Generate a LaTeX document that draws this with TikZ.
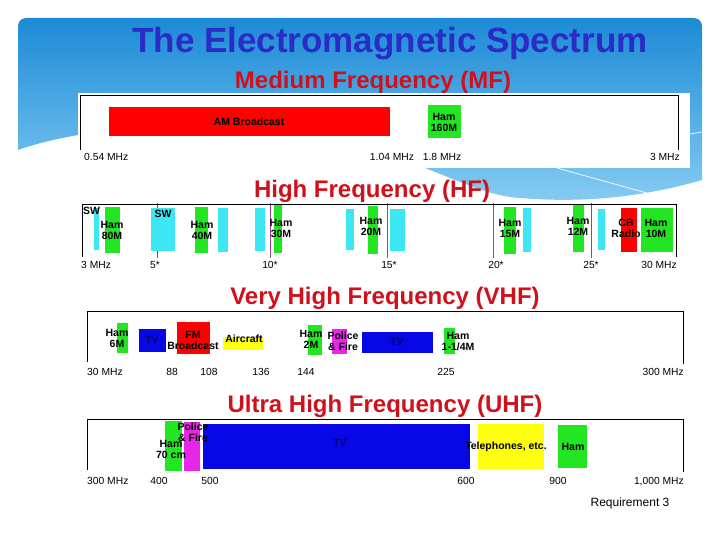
\documentclass[tikz,border=0pt]{standalone}
\usepackage{fontspec}
\setmainfont{Liberation Sans}
\definecolor{hdrtop}{HTML}{1C8AD6}
\definecolor{hdrbot}{HTML}{86CCF2}
\definecolor{titleblue}{HTML}{2B2BC8}
\definecolor{subred}{HTML}{D0101A}
\definecolor{hamgreen}{HTML}{22E622}
\definecolor{swcyan}{HTML}{3CE6F2}
\definecolor{tvblue}{HTML}{0808E6}
\definecolor{polmag}{HTML}{E826E8}
\definecolor{tickpurple}{HTML}{9A3E9A}
\definecolor{bandred}{HTML}{FF0000}
\definecolor{bandyellow}{HTML}{FFFF10}
\begin{document}
\begin{tikzpicture} [
        x=1pt, y=-1pt,
        heading/.style={text=subred, font=\fontsize{24}{24}\selectfont\bfseries, anchor=base},
        lbl/.style={font=\fontsize{10.5}{11}\selectfont\bfseries, align=center, inner sep=0pt},
        axis/.style={font=\fontsize{10.3}{11}\selectfont, inner sep=0pt, anchor=base},
        frame/.style={black, line width=0.8pt},
        tick/.style={tickpurple, line width=0.6pt} ]
    \useasboundingbox (0,0) rectangle (720,540);
    % header wave
    \shade[top color=hdrtop, bottom color=hdrbot] (18,150) [rounded corners=8pt] -- (18,18) -- (702,18) [sharp corners] -- (702,180)
        .. controls (640,198) and (580,203) .. (520,198) .. controls (470,195) and (430,160) .. (330,140)
        .. controls (200,115) and (80,128) .. (18,150) -- cycle;
    \draw[white, line width=0.7pt] (557,168) .. controls (600,180) .. (647,193);
    \draw[white, line width=0.7pt] (690,134) -- (702,132);
    \node[text=titleblue, font=\fontsize{35}{35}\selectfont\bfseries, anchor=base] (title) at (390,53) {The Electromagnetic Spectrum};

    % MF
    \fill[white] (78,93) rectangle (690,168);
    \node[heading] (mf) at (373,89) {Medium Frequency (MF)};
    \draw[frame] (80,150) -- (80,95) -- (678,95) -- (678,150);
    \fill[bandred] (109,107) rectangle (390,136);
    \fill[hamgreen] (428,105) rectangle (461,138);
    \node[lbl] (am) at (249,122) {AM Broadcast};
    \node[lbl] (ham160) at (444,122) {Ham\\160M};
    \node[axis, anchor=base west] (mf1) at (84,161) {0.54 MHz};
    \node[axis] (mf2) at (392,161) {1.04 MHz};
    \node[axis] (mf3) at (442,161) {1.8 MHz};
    \node[axis, anchor=base east] (mf4) at (680,161) {3 MHz};

    % HF
    \fill[white] (78,201) rectangle (690,273);
    \node[heading] (hf) at (372,197) {High Frequency (HF)};
    \foreach \x in {157,270,387,493,591}
        \draw[tick] (\x,203) -- (\x,258);
    \draw[frame] (82,257) -- (82,204) -- (676,204) -- (676,257);
    \foreach \xa/\xb/\ya/\yb/\c in {94/99/208/250/swcyan, 105/120/207/253/hamgreen,
            151/175/208/251/swcyan, 195/208/207/253/hamgreen, 218/228/208/252/swcyan,
            255/265/208/251/swcyan, 274/282/205/253/hamgreen, 346/354/209/250/swcyan,
            368/378/206/254/hamgreen, 390/405/209/251/swcyan, 504/516/207/254/hamgreen,
            523/531/208/252/swcyan, 573/584/205/252/hamgreen, 598/605/209/250/swcyan,
            621/637/208/252/bandred, 641/673/208/252/hamgreen}
        \fill[\c] (\xa,\ya) rectangle (\xb,\yb);
    \node[lbl, anchor=north west] (sw1) at (83,207) {SW};
    \node[lbl] (ham80) at (112,230) {Ham\\80M};
    \node[lbl] (sw2) at (163,214) {SW};
    \node[lbl] (ham40) at (202,230) {Ham\\40M};
    \node[lbl] (ham30) at (281,228) {Ham\\30M};
    \node[lbl] (ham20) at (371,226) {Ham\\20M};
    \node[lbl] (ham15) at (510,228) {Ham\\15M};
    \node[lbl] (ham12) at (578,226) {Ham\\12M};
    \node[lbl] (cb) at (626,228) {CB\\Radio};
    \node[lbl] (ham10) at (656,228) {Ham\\10M};
    \node[axis, anchor=base west] (hf0) at (81,268) {3 MHz};
    \foreach \x/\t [count=\i] in {155/5*, 270/10*, 389/15*, 496/20*, 591/25*}
        \node[axis] (hf\i) at (\x,268) {\t};
    \node[axis, anchor=base east] (hf6) at (677,268) {30 MHz};

    % VHF
    \fill[white] (86,309) rectangle (690,378);
    \node[heading] (vhf) at (385,304) {Very High Frequency (VHF)};
    \draw[frame] (87,362) -- (87,311) -- (683,311) -- (683,364);
    \foreach \xa/\xb/\ya/\yb/\c in {117/128/323/353/hamgreen, 139/166/329/352/tvblue,
            177/210/322/354/bandred, 223/263/337/350/bandyellow, 308/322/325/355/hamgreen,
            332/347/329/354/polmag, 362/433/332/353/tvblue, 444/455/328/354/hamgreen}
        \fill[\c] (\xa,\ya) rectangle (\xb,\yb);
    \node[lbl] (ham6) at (117,338) {Ham\\6M};
    \node[lbl, text=tvblue!45!black] (tv1) at (152,340) {TV};
    \node[lbl] (fm) at (193,340) {FM\\Broadcast};
    \node[lbl] (air) at (244,339) {Aircraft};
    \node[lbl] (ham2) at (311,339) {Ham\\2M};
    \node[lbl] (pol1) at (343,341) {Police\\\& Fire};
    \node[lbl, text=tvblue!45!black] (tv2) at (397,342) {TV};
    \node[lbl] (ham125) at (458,341) {Ham\\1-1/4M};
    \node[axis, anchor=base west] (vhf0) at (87,375) {30 MHz};
    \foreach \x/\t [count=\i] in {172/88, 209/108, 261/136, 306/144, 446/225}
        \node[axis] (vhf\i) at (\x,375) {\t};
    \node[axis, anchor=base east] (vhf6) at (684,375) {300 MHz};

    % UHF
    \fill[white] (86,417) rectangle (690,488);
    \node[heading] (uhf) at (385,412) {Ultra High Frequency (UHF)};
    \draw[frame] (87,470) -- (87,419) -- (683,419) -- (683,472);
    \foreach \xa/\xb/\ya/\yb/\c in {165/182/421/471/hamgreen, 184/200/422/471/polmag,
            203/470/424/469/tvblue, 478/544/424/469/bandyellow, 558/587/425/468/hamgreen}
        \fill[\c] (\xa,\ya) rectangle (\xb,\yb);
    \node[lbl] (ham70) at (171,449) {Ham\\70 cm};
    \node[lbl] (pol2) at (193,432) {Police\\\& Fire};
    \node[lbl, text=tvblue!45!black] (tv3) at (340,443) {TV};
    \node[lbl] (tel) at (506,447) {Telephones, etc.};
    \node[lbl] (ham70b) at (573,447) {Ham};
    \node[axis, anchor=base west] (uhf0) at (87,484) {300 MHz};
    \foreach \x/\t [count=\i] in {159/400, 210/500, 466/600, 558/900}
        \node[axis] (uhf\i) at (\x,484) {\t};
    \node[axis, anchor=base east] (uhf6) at (684,484) {1,000 MHz};

    \node[font=\fontsize{12}{12}\selectfont] (req) at (630,503) {Requirement 3};
\end{tikzpicture}
\end{document}
